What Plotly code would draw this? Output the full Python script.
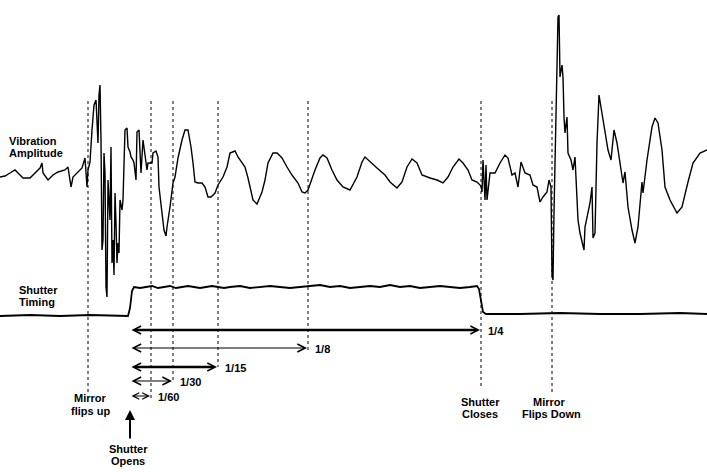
import plotly.graph_objects as go

# ---- data (time axis in px-like units, amplitude in screen units) ----
vib_t = [0, 5, 10, 15, 20, 23, 30, 35, 40, 42, 43, 48, 53, 58, 63, 65, 68, 70, 71, 73, 78, 82, 85, 87, 88, 90,
         92, 94, 96, 97, 98, 99, 100, 101, 102, 103, 104, 105, 106, 107, 108, 110, 111, 112, 113, 114, 115, 116,
         117, 118, 119, 120, 122, 123, 125, 127, 128, 130, 131, 133, 134, 136, 137, 139, 141, 143, 145, 147, 148,
         152, 153, 156, 158, 159, 162, 164, 166, 167, 170, 173, 175, 178, 182, 185, 188, 191, 193, 195, 198, 202,
         205, 208, 211, 215, 218, 223, 227, 230, 235, 238, 245, 248, 253, 257, 262, 265, 268, 273, 277, 282, 287,
         292, 298, 302, 305, 308, 315, 320, 323, 327, 332, 337, 343, 350, 357, 362, 365, 370, 377, 385, 390, 397,
         402, 407, 412, 417, 422, 430, 437, 443, 448, 453, 459, 463, 468, 472, 477, 481, 482, 483, 485, 486, 487,
         490, 495, 500, 505, 508, 512, 515, 518, 521, 525, 530, 533, 537, 540, 543, 547, 549, 551, 552, 553, 554,
         555, 557, 558, 559, 560, 562, 563, 564, 565, 567, 568, 571, 573, 575, 577, 578, 580, 583, 584, 585, 588,
         590, 592, 593, 595, 597, 599, 602, 605, 608, 611, 614, 617, 620, 623, 625, 628, 632, 635, 638, 642, 643,
         647, 652, 655, 658, 662, 665, 670, 677, 682, 688, 693, 700, 707]
vib_y = [177, 176, 173, 170, 175, 178, 178, 173, 168, 163, 173, 180, 175, 172, 171, 170, 167, 178, 187, 177, 172, 168, 158, 187, 170, 162,
         130, 105, 100, 120, 143, 95, 85, 140, 250, 240, 153, 173, 287, 297, 180, 220, 147, 263, 240, 275, 193, 223,
         263, 243, 253, 200, 210, 200, 130, 128, 147, 152, 157, 160, 163, 180, 132, 130, 173, 140, 157, 170, 163,
         163, 153, 151, 157, 187, 213, 230, 236, 227, 207, 183, 177, 158, 140, 130, 130, 147, 163, 182, 183, 183,
         187, 197, 197, 193, 185, 177, 167, 153, 151, 157, 167, 178, 200, 204, 192, 180, 163, 153, 153, 158, 167,
         175, 183, 192, 193, 190, 170, 158, 155, 158, 170, 180, 187, 190, 177, 162, 157, 162, 168, 175, 182, 188,
         182, 167, 159, 163, 175, 178, 180, 183, 177, 167, 159, 163, 170, 180, 182, 186, 192, 160, 200, 165, 200,
         173, 173, 163, 155, 158, 175, 173, 187, 162, 173, 175, 185, 187, 202, 197, 192, 180, 187, 275, 280, 213,
         157, 73, 17, 15, 77, 65, 77, 117, 133, 117, 153, 160, 170, 157, 200, 220, 233, 245, 250, 227, 213,
         203, 187, 238, 233, 143, 95, 113, 130, 150, 160, 130, 143, 163, 183, 172, 207, 230, 243, 227, 182, 193,
         160, 127, 118, 123, 150, 187, 200, 213, 207, 182, 163, 153, 150]

shut_t = [0, 30, 60, 90, 128, 130, 132, 134, 140, 146, 152, 158, 164, 170, 176, 182, 188, 194, 200, 206, 212,
          218, 224, 230, 240, 250, 260, 270, 280, 290, 300, 310, 320, 330, 340, 350, 360, 370, 380, 390, 400,
          410, 420, 430, 440, 450, 460, 470, 477, 479, 481, 483, 486, 520, 560, 600, 640, 680, 707]
shut_y = [316, 315, 316, 315, 316, 308, 291, 287, 288, 287, 286, 288, 287, 286, 288, 287, 286, 287, 288, 287, 286,
          287, 288, 287, 286, 288, 287, 286, 287, 288, 287, 286, 285, 287, 286, 288, 287, 286, 287, 285, 287,
          286, 288, 287, 286, 287, 288, 287, 286, 289, 300, 312, 314, 314, 313, 314, 314, 313, 314]

# event markers (dotted verticals)
event_x = [88, 151, 173, 218, 308, 481, 552]
event_bottom = [393, 398, 380, 367, 350, 388, 393]
shutter_open_t = 130

speed_labels = ["1/4", "1/8", "1/15", "1/30", "1/60"]
speed_end = [481, 308, 218, 173, 151]

FONT = dict(family="Liberation Sans, Arial, sans-serif", size=11, color="black", weight="bold")

fig = go.Figure()
fig.add_trace(go.Scatter(x=vib_t, y=vib_y, mode="lines",
                         line=dict(color="black", width=1.4), hoverinfo="skip", showlegend=False))
fig.add_trace(go.Scatter(x=shut_t, y=shut_y, mode="lines",
                         line=dict(color="black", width=1.8), hoverinfo="skip", showlegend=False))

shapes = []
for ex, eb in zip(event_x, event_bottom):
    shapes.append(dict(type="line", xref="x", yref="y", x0=ex, x1=ex, y0=101, y1=eb,
                       line=dict(color="black", width=1, dash="dot")))

annotations = []
rows = [330, 348, 367, 381, 396]
widths = [2.6, 1.2, 2.6, 1.2, 1.2]
sizes = [0.6, 1.3, 0.6, 1.3, 1.05]
for lab, end, ry, w, s in zip(speed_labels, speed_end, rows, widths, sizes):
    annotations.append(dict(x=end - 1, y=ry, ax=shutter_open_t, ay=ry, xref="x", yref="y",
                            axref="x", ayref="y", text="", showarrow=True, arrowside="end+start",
                            arrowhead=5, startarrowhead=5, arrowwidth=w, arrowsize=s,
                            startarrowsize=s, arrowcolor="black"))
    annotations.append(dict(x=end + 5, y=ry + 1, xref="x", yref="y", text=lab, showarrow=False,
                            xanchor="left", yanchor="middle", font=FONT))

# up arrow for "Shutter Opens"
annotations.append(dict(x=shutter_open_t, y=410, ax=shutter_open_t, ay=440, xref="x", yref="y",
                        axref="x", ayref="y", text="", showarrow=True, arrowhead=2,
                        arrowwidth=2, arrowsize=1, arrowcolor="black"))

labels = [
    ("Vibration", 7, 141, "left"), ("Amplitude", 7, 153, "left"),
    ("Shutter", 17, 290, "left"), ("Timing", 17, 302, "left"),
    ("Mirror", 90, 398, "center"), ("flips up", 90, 411, "center"),
    ("Shutter", 128, 449, "center"), ("Opens", 128, 461, "center"),
    ("Shutter", 480, 402, "center"), ("Closes", 480, 414, "center"),
    ("Mirror", 549, 402, "center"), ("Flips Down", 551, 414, "center"),
]
for txt, lx, ly, anc in labels:
    annotations.append(dict(x=lx, y=ly, xref="x", yref="y", text=txt, showarrow=False,
                            xanchor=anc, yanchor="middle", font=FONT))

fig.update_layout(
    width=707, height=472, margin=dict(l=0, r=0, t=0, b=0),
    paper_bgcolor="white", plot_bgcolor="white",
    xaxis=dict(range=[0, 707], visible=False, fixedrange=True),
    yaxis=dict(range=[472, 0], visible=False, fixedrange=True),
    shapes=shapes, annotations=annotations, showlegend=False,
)
fig.write_html("out.html", config={"displayModeBar": False},
               post_script="document.body.style.margin='0';document.body.style.overflow='hidden';")
